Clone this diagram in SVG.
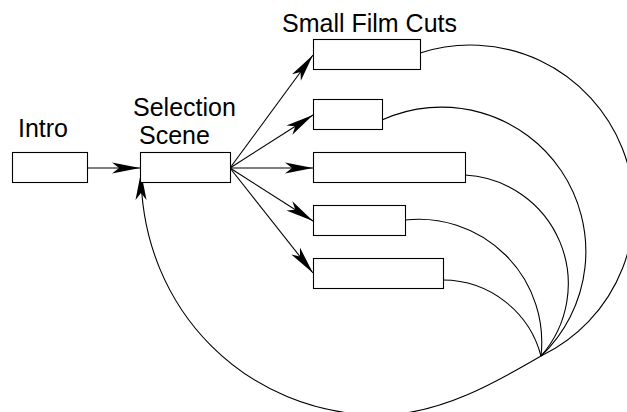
<svg xmlns="http://www.w3.org/2000/svg" width="627" height="412" viewBox="0 0 627 412">
  <style>
    .box { fill: #fff; stroke: #000; stroke-width: 1.1; }
    .lbl { font-family: "Liberation Sans", Arial, sans-serif; font-size: 25px; fill: #000; }
    .edge { fill: none; stroke: #000; stroke-width: 1.1; }
    .arr { marker-end: url(#ah); }
  </style>
  <defs>
    <marker id="ah" markerUnits="userSpaceOnUse" orient="auto" overflow="visible" markerWidth="1" markerHeight="1" refX="0" refY="0">
      <path d="M0,0 L-28,-5.5 L-21,0 L-28,5.5 Z" fill="#000"/>
    </marker>
  </defs>

  <g id="connectors">
    <path class="edge arr" d="M87,168 L140,168"/>
    <path class="edge arr" d="M230,168 L313,55"/>
    <path class="edge arr" d="M230,168 L313,115"/>
    <path class="edge arr" d="M230,168 L313,168"/>
    <path class="edge arr" d="M230,168 L313,221"/>
    <path class="edge arr" d="M230,168 L313,273"/>
    <path class="edge" d="M420,53 A163.5,163.5 0 0 1 541,356"/>
    <path class="edge" d="M382,120 A144.3,144.3 0 0 1 541,356"/>
    <path class="edge" d="M465,175 A109,109 0 0 1 541,356"/>
    <path class="edge" d="M405,220 A123,123 0 0 1 541,356"/>
    <path class="edge" d="M443,280 A101.8,101.8 0 0 1 541,356"/>
    <path class="edge arr" d="M541,356 C497.7,381.3 440,415 380,415 C248,415 141,311 141,172"/>
  </g>

  <g id="intro">
    <text class="lbl" x="18" y="137">Intro</text>
    <rect class="box" x="12.5" y="152.5" width="75" height="30"/>
  </g>
  <g id="selection-scene">
    <text class="lbl" x="133" y="116">Selection</text>
    <text class="lbl" x="139" y="144">Scene</text>
    <rect class="box" x="140.5" y="152.5" width="90" height="30"/>
  </g>
  <g id="small-film-cuts-label">
    <text class="lbl" x="282" y="32">Small Film Cuts</text>
  </g>
  <g id="cut1"><rect class="box" x="313.5" y="39.5" width="107" height="30"/></g>
  <g id="cut2"><rect class="box" x="313.5" y="99.5" width="69" height="30"/></g>
  <g id="cut3"><rect class="box" x="313.5" y="152.5" width="152" height="30"/></g>
  <g id="cut4"><rect class="box" x="313.5" y="205.5" width="92" height="30"/></g>
  <g id="cut5"><rect class="box" x="313.5" y="258.5" width="130" height="30"/></g>
</svg>
